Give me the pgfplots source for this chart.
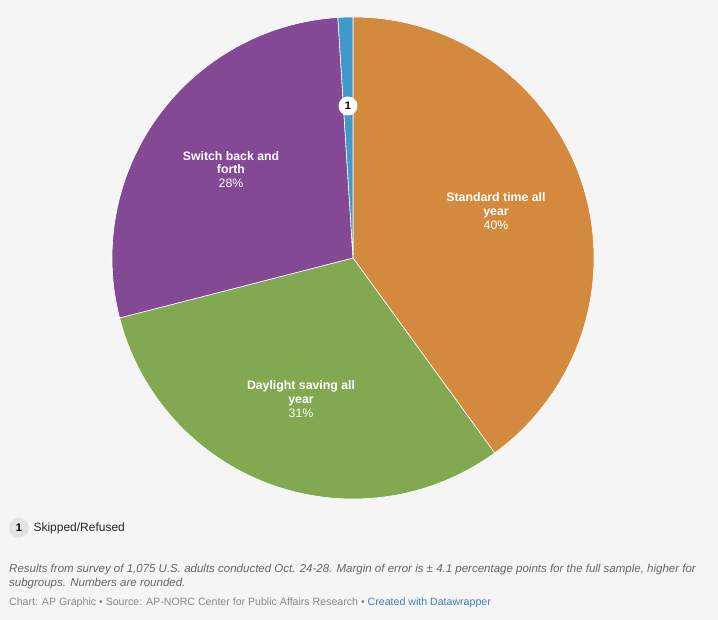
\documentclass[border=0pt]{standalone}
\usepackage{pgfplots}
\pgfplotsset{compat=1.18}
\usepackage{pgfplotstable}
\usepackage{fontspec}
\setmainfont{Liberation Sans}

\definecolor{bgcol}{HTML}{F5F5F5}
\definecolor{stdcol}{HTML}{D48A3E}
\definecolor{dstcol}{HTML}{83A852}
\definecolor{swcol}{HTML}{834995}
\definecolor{skcol}{HTML}{4199CB}
\definecolor{notecol}{HTML}{666666}
\definecolor{srccol}{HTML}{888888}
\definecolor{linkcol}{HTML}{3A7FC1}
\definecolor{keycol}{HTML}{E4E4E4}

% share of answers, clockwise from 12 o'clock
\pgfplotstableread{
label    value color
Standard 40    stdcol
Daylight 31    dstcol
Switch   28    swcol
Skipped  1     skcol
}\piedata

\begin{document}
\begin{tikzpicture}
\begin{axis}[
  x=1pt, y=1pt,
  xmin=0, xmax=718, ymin=-620, ymax=0,
  hide axis, clip=false,
]
\fill[bgcol] (axis cs:0,0) rectangle (axis cs:718,-620);

% pie slices
\pgfplotstablegetrowsof{\piedata}
\pgfmathtruncatemacro\nrows{\pgfplotsretval-1}
\def\startang{90}
\pgfplotsforeachungrouped \i in {0,...,\nrows}{%
  \pgfplotstablegetelem{\i}{value}\of\piedata
  \pgfmathsetmacro\endang{\startang-3.6*\pgfplotsretval}
  \pgfplotstablegetelem{\i}{color}\of\piedata
  \edef\slicecol{\pgfplotsretval}
  \edef\temp{\noexpand\fill[\slicecol, draw=white, line width=0.6pt]
    (axis cs:353,-258) -- ++(\startang:241pt)
    arc[start angle=\startang, end angle=\endang, radius=241pt] -- cycle;}
  \temp
  \let\startang\endang
}

% slice labels
\begin{scope}[every node/.style={text=white, font=\fontsize{12.3}{14}\selectfont, anchor=base}]
\node at (axis cs:496,-202) {\bfseries Standard time all};
\node at (axis cs:496,-216) {\bfseries year};
\node at (axis cs:496,-230) {40\%};
\node at (axis cs:301,-390) {\bfseries Daylight saving all};
\node at (axis cs:301,-404) {\bfseries year};
\node at (axis cs:301,-418) {31\%};
\node at (axis cs:231,-161) {\bfseries Switch back and};
\node at (axis cs:231,-174) {\bfseries forth};
\node at (axis cs:231,-188) {28\%};
\end{scope}

% footnote marker on the small slice
\node[circle, fill=white, inner sep=0pt, minimum size=19pt,
  font=\fontsize{11}{13}\selectfont\bfseries] at (axis cs:348,-106) {1};

% key
\node[circle, fill=keycol, inner sep=0pt, minimum size=20pt,
  font=\fontsize{11}{13}\selectfont\bfseries] at (axis cs:19,-528) {1};
\node[anchor=base west, text=black!85, font=\fontsize{12}{14}\selectfont]
  at (axis cs:30,-532) {Skipped/Refused};

% notes
\begin{scope}[every node/.style={anchor=base west, inner sep=0pt, text=notecol,
  font=\fontsize{11.5}{14}\selectfont\itshape}]
\node at (axis cs:9,-573) {Results from survey of 1,075 U.S. adults conducted Oct. 24-28. Margin of error is ± 4.1 percentage points for the full sample, higher for};
\node at (axis cs:9,-587) {subgroups. Numbers are rounded.};
\end{scope}
\node[anchor=base west, inner sep=0pt, text=srccol, font=\fontsize{10.6}{13}\selectfont]
  at (axis cs:9,-606) {Chart: AP Graphic • Source: AP-NORC Center for Public Affairs Research • \textcolor{linkcol}{Created with Datawrapper}};
\end{axis}
\end{tikzpicture}
\end{document}
